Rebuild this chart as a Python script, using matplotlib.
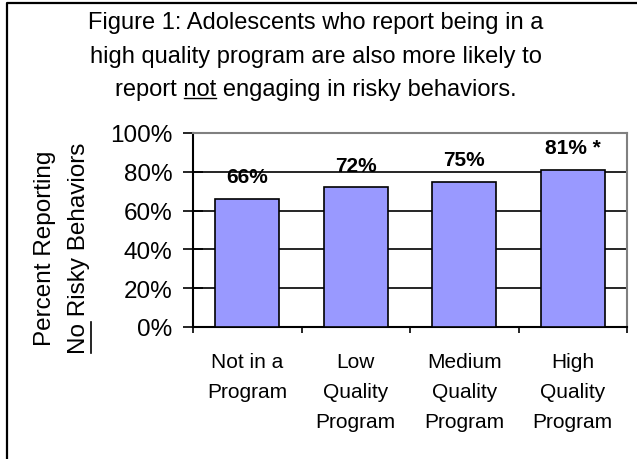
import matplotlib
matplotlib.use("Agg")
import matplotlib.pyplot as plt
from matplotlib.lines import Line2D

# data
categories = ["Not in a\nProgram", "Low\nQuality\nProgram",
              "Medium\nQuality\nProgram", "High\nQuality\nProgram"]
values = [66, 72, 75, 81]
bar_labels = ["66%", "72%", "75%", "81% *"]
yticks = [0, 20, 40, 60, 80, 100]
ytick_labels = ["0%", "20%", "40%", "60%", "80%", "100%"]
title_lines = ["Figure 1: Adolescents who report being in a",
               "high quality program are also more likely to",
               "report not engaging in risky behaviors."]
ylabel_lines = ["Percent Reporting", "No Risky Behaviors"]

plt.rcParams["font.family"] = ["Liberation Sans", "DejaVu Sans"]

W, H = 637, 460
fig = plt.figure(figsize=(W / 100, H / 100), dpi=100)


def fx(x):
    return x / W


def fy(y):
    return 1 - y / H


# plot area
ax = fig.add_axes([fx(193), fy(328), (627 - 193) / W, (328 - 134) / H])
xpos = list(range(len(values)))
ax.bar(xpos, values, width=0.59, color="#9999ff", edgecolor="black",
       linewidth=1.2, zorder=3)
ax.set_xlim(-0.5, 3.5)
ax.set_ylim(0, 100)

ax.set_yticks(yticks)
ax.set_yticklabels(ytick_labels, fontsize=17.5)
ax.tick_params(axis="y", direction="inout", length=14, width=1.2, pad=8)
ax.yaxis.grid(True, color="black", linewidth=1.2)
ax.set_axisbelow(True)

ax.set_xticks(xpos)
ax.set_xticklabels(categories, fontsize=15, linespacing=1.75)
ax.set_xticks([-0.5, 0.5, 1.5, 2.5, 3.5], minor=True)
ax.tick_params(axis="x", which="major", length=0, pad=18)
ax.tick_params(axis="x", which="minor", direction="out", length=4.5, width=1.2)

for s in ["left", "bottom"]:
    ax.spines[s].set_color("black")
    ax.spines[s].set_linewidth(1.5)
for s in ["top", "right"]:
    ax.spines[s].set_color("#808080")
    ax.spines[s].set_linewidth(1.5)

for xi, v, lab in zip(xpos, values, bar_labels):
    ax.annotate(lab, (xi, v), xytext=(0, 12), textcoords="offset points",
                ha="center", va="baseline", fontsize=15, fontweight="bold")

# title, three centred lines
title_texts = []
for i, line in enumerate(title_lines):
    t = fig.text(fx(316), fy(23 + 33.5 * i), line, ha="center", va="center",
                 fontsize=17)
    title_texts.append(t)

# y label, two rotated lines
ylab_texts = []
for xc, line in zip([45, 79], ylabel_lines):
    t = fig.text(fx(xc), fy(248), line, rotation=90, ha="center",
                 va="center", fontsize=17.5)
    ylab_texts.append(t)

# outer frame (left and top edges only, the rest is cut off)
fig.add_artist(Line2D([fx(7), fx(7), 1.0], [0.0, fy(4), fy(4)],
                      transform=fig.transFigure, color="black", linewidth=1.6))

# underlines for "not" and "No"
fig.canvas.draw()
r = fig.canvas.get_renderer()

t3 = title_texts[2]
bb = t3.get_window_extent(r)
tmp = fig.text(0, 0, "report not", fontsize=17)
w_end = tmp.get_window_extent(r).width
tmp.set_text("not")
w_not = tmp.get_window_extent(r).width
tmp.remove()
x_end = bb.x0 + w_end
x_start = x_end - w_not
y_ul = bb.y0 + 2
fig.add_artist(Line2D([x_start / W, x_end / W], [y_ul / H, y_ul / H],
                      transform=fig.transFigure, color="black", linewidth=1.0))

t2 = ylab_texts[1]
bb = t2.get_window_extent(r)
tmp = fig.text(0, 0, "No", fontsize=17.5)
w_no = tmp.get_window_extent(r).width
tmp.remove()
x_ul = bb.x1 + 1
fig.add_artist(Line2D([x_ul / W, x_ul / W], [bb.y0 / H, (bb.y0 + w_no) / H],
                      transform=fig.transFigure, color="black", linewidth=1.2))

fig.savefig("out.png", dpi=100)
